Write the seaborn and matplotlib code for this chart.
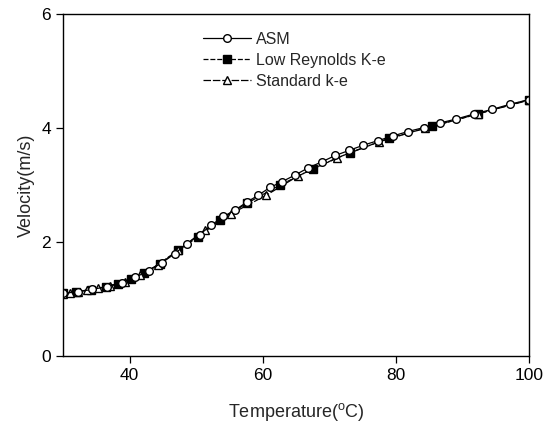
import numpy as np
import pandas as pd
import matplotlib
matplotlib.use("Agg")
import matplotlib.pyplot as plt
import seaborn as sns

# ---- data ----
asm_T = [30, 32.2, 34.4, 36.6, 38.8, 40.8, 42.9, 44.9, 46.8, 48.6, 50.5, 52.3, 54.1, 55.8,
         57.6, 59.3, 61.1, 62.9, 64.9, 66.8, 68.9, 70.9, 73.0, 75.1, 77.3, 79.5, 81.8,
         84.2, 86.6, 89.1, 91.8, 94.5, 97.2, 100]
asm_V = [1.10, 1.13, 1.17, 1.22, 1.29, 1.38, 1.50, 1.64, 1.80, 1.97, 2.13, 2.30, 2.45, 2.56,
         2.70, 2.82, 2.96, 3.06, 3.18, 3.30, 3.41, 3.52, 3.61, 3.70, 3.78, 3.86, 3.94,
         4.01, 4.09, 4.16, 4.25, 4.33, 4.42, 4.50]

lr_T = [30, 32, 34.2, 36.4, 38.2, 40.2, 42.2, 44.6, 47.3, 50.3, 53.6, 57.6, 62.6, 67.6,
        73.1, 78.9, 85.5, 92.4, 100]
lr_V = [1.10, 1.12, 1.16, 1.22, 1.27, 1.35, 1.46, 1.62, 1.86, 2.09, 2.39, 2.68, 3.00, 3.29,
        3.57, 3.82, 4.03, 4.25, 4.50]

std_T = [30, 31.0, 32.2, 33.6, 35.3, 37.1, 39.3, 41.6, 44.2, 47.3, 51.3, 55.3, 60.5, 65.3,
         71.2, 77.5, 84.4, 92.3, 100]
std_V = [1.09, 1.11, 1.13, 1.16, 1.19, 1.23, 1.30, 1.42, 1.60, 1.86, 2.21, 2.50, 2.82, 3.16,
         3.48, 3.76, 4.00, 4.25, 4.49]

labels = ["ASM", "Low Reynolds K-e", "Standard k-e"]
x_ticks = [40, 60, 80, 100]
y_ticks = [0, 2, 4, 6]

sns.set_theme(style="ticks")
plt.rcParams["font.family"] = ["Liberation Sans", "DejaVu Sans"]
plt.rcParams["mathtext.fontset"] = "custom"
plt.rcParams["mathtext.rm"] = "Liberation Sans"

fig = plt.figure(figsize=(5.58, 4.28), dpi=100)
ax = fig.add_axes([0.113, 0.168, 0.835, 0.799])

df_asm = pd.DataFrame({"T": asm_T, "V": asm_V})
df_lr = pd.DataFrame({"T": lr_T, "V": lr_V})
df_std = pd.DataFrame({"T": std_T, "V": std_V})

common = dict(color="black", linewidth=0.9, markersize=5.5, markeredgewidth=1.0,
              markeredgecolor="black", ax=ax)
sns.lineplot(data=df_lr, x="T", y="V", marker="s", markerfacecolor="black",
             linestyle=(0, (4, 1.5)), label=labels[1], **common)
sns.lineplot(data=df_std, x="T", y="V", marker="^", markerfacecolor="white",
             linestyle=(0, (6, 1.5)), label=labels[2], **common)
sns.lineplot(data=df_asm, x="T", y="V", marker="o", markerfacecolor="white",
             linestyle="-", label=labels[0], **common)

ax.set_xlim(30, 100)
ax.set_ylim(0, 6)
ax.set_xticks(x_ticks)
ax.set_yticks(y_ticks)
ax.tick_params(direction="out", length=5, width=0.9, labelsize=12.5, colors="black")
for s in ax.spines.values():
    s.set_linewidth(1.0)
    s.set_color("black")
    s.set_visible(True)

ax.set_xlabel(r"Temperature($^{\mathrm{o}}$C)", fontsize=13, labelpad=13)
ax.set_ylabel("Velocity(m/s)", fontsize=13, labelpad=5)

handles, labs = ax.get_legend_handles_labels()
order = [labs.index(l) for l in labels]
ax.legend([handles[i] for i in order], [labs[i] for i in order],
          loc="upper left", bbox_to_anchor=(0.27, 0.99), frameon=False,
          fontsize=11.5, handlelength=3.0, handletextpad=0.3, labelspacing=0.38)

fig.savefig("out.png", dpi=100)
